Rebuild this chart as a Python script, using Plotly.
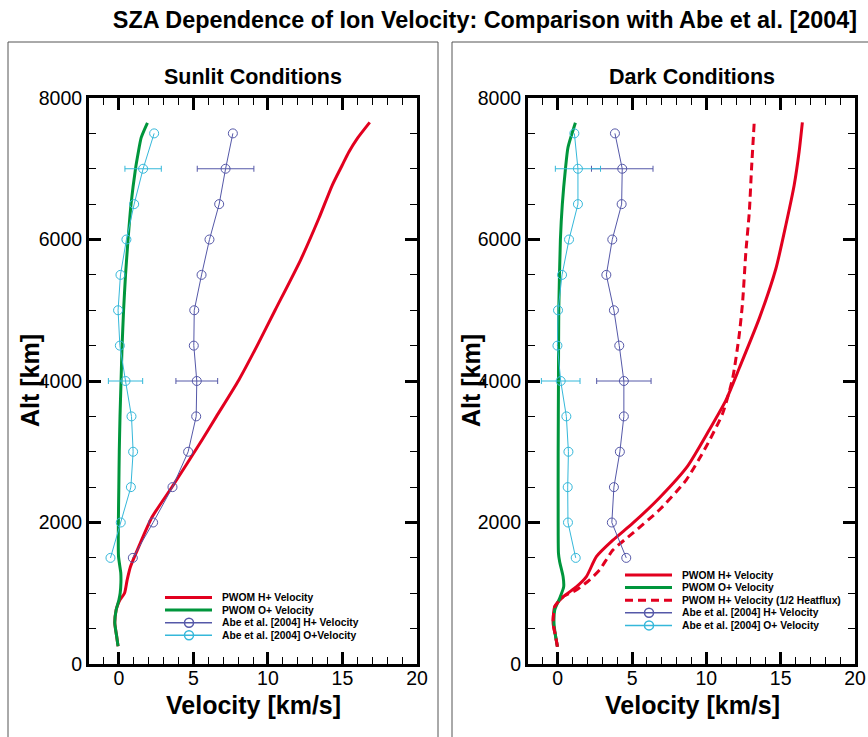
import plotly.graph_objects as go

# ---------------- data ----------------
abe_alt = [1500, 2000, 2500, 3000, 3500, 4000, 4500, 5000, 5500, 6000, 6500, 7000, 7500]
abe_h_sun = [0.94, 2.30, 3.60, 4.65, 5.19, 5.23, 5.03, 5.06, 5.55, 6.08, 6.73, 7.16, 7.65]
abe_o_sun = [-0.56, 0.13, 0.81, 0.96, 0.85, 0.45, 0.07, -0.05, 0.11, 0.51, 1.03, 1.63, 2.37]
abe_h_dark = [4.61, 3.64, 3.78, 4.18, 4.45, 4.45, 4.14, 3.78, 3.27, 3.67, 4.30, 4.34, 3.85]
abe_o_dark = [1.21, 0.69, 0.67, 0.72, 0.58, 0.20, -0.02, 0.02, 0.29, 0.76, 1.36, 1.36, 1.12]

# error bars given at 4000 km and 7000 km
err_alt = [4000, 7000]
err_h_sun = [1.40, 1.90]
err_o_sun = [1.15, 1.22]
err_h_dark = [1.83, 2.07]
err_o_dark = [1.30, 1.52]

pwom_o_sun_alt = [250, 400, 580, 763, 900, 1000, 1150, 1290, 1520, 2000, 2500, 3000, 3500, 4000,
                  4500, 5000, 5500, 6000, 6500, 7000, 7200, 7440, 7650]
pwom_o_sun = [-0.05, -0.15, -0.27, -0.18, 0.0, 0.09, 0.14, 0.13, -0.02, -0.03, 0.0, 0.03, 0.08, 0.15,
              0.22, 0.32, 0.45, 0.62, 0.82, 1.12, 1.28, 1.50, 1.92]

pwom_h_sun_alt = [250, 400, 580, 763, 850, 905, 1000, 1190, 1375, 1660, 2080, 2505, 3170, 3500, 4015,
                  4500, 5000, 5710, 6300, 6770, 7053, 7240, 7430, 7656]
pwom_h_sun = [-0.05, -0.15, -0.27, -0.18, -0.05, 0.07, 0.38, 0.56, 0.78, 1.34, 2.24, 3.58, 5.59, 6.55, 8.05,
              9.28, 10.48, 12.19, 13.42, 14.32, 14.99, 15.44, 16.00, 16.83]

pwom_o_dark_alt = [245, 400, 575, 763, 930, 1090, 1235, 1445, 1565, 2000, 3000, 4000, 5000, 6000,
                   6500, 7000, 7300, 7650]
pwom_o_dark = [-0.02, -0.15, -0.25, -0.20, 0.13, 0.40, 0.36, 0.13, 0.05, 0.03, 0.03, 0.05, 0.07, 0.18,
               0.31, 0.52, 0.69, 1.19]

pwom_h_dark_alt = [245, 400, 575, 810, 950, 1090, 1235, 1517, 1750, 1990, 2350, 2800, 3310, 3730, 4180,
                   4885, 5590, 6205, 6770, 7240, 7656]
pwom_h_dark = [-0.02, -0.15, -0.31, -0.20, 0.36, 1.25, 1.93, 2.60, 3.71, 5.05, 6.85, 8.75, 10.20, 11.32,
               12.21, 13.56, 14.68, 15.35, 15.91, 16.24, 16.46]

pwom_h_half_alt = [245, 400, 575, 810, 950, 1045, 1190, 1330, 1610, 1850, 2180, 2600, 3070, 3545, 4040,
                   4650, 5120, 5830, 6390, 7005, 7656]
pwom_h_half = [-0.02, -0.15, -0.31, -0.20, 0.36, 1.25, 2.15, 2.82, 3.71, 5.05, 6.85, 8.64, 9.98, 11.10,
               11.77, 12.21, 12.44, 12.66, 12.89, 13.04, 13.22]

x_ticks = [0, 5, 10, 15, 20]
y_ticks = [0, 2000, 4000, 6000, 8000]

RED = "#e2001f"
GREEN = "#00963c"
BLUE = "#5558a8"
CYAN = "#35b8da"

W, H = 868, 737


def px(x):
    return x / W


def py(y):
    return 1 - y / H


fig = go.Figure()


def add_panel(xa, ya, h_alt, h_vel, o_alt, o_vel, ah, ao, eh, eo, half=None):
    fig.add_trace(go.Scatter(x=h_vel, y=h_alt, mode="lines", name="PWOM H+ Velocity",
                             line=dict(color=RED, width=3, shape="spline", smoothing=0.6),
                             xaxis=xa, yaxis=ya, showlegend=False))
    fig.add_trace(go.Scatter(x=o_vel, y=o_alt, mode="lines", name="PWOM O+ Velocity",
                             line=dict(color=GREEN, width=3, shape="spline", smoothing=0.6),
                             xaxis=xa, yaxis=ya, showlegend=False))
    if half is not None:
        fig.add_trace(go.Scatter(x=half[1], y=half[0], mode="lines",
                                 name="PWOM H+ Velocity (1/2 Heatflux)",
                                 line=dict(color=RED, width=3, dash="8px,5px", shape="spline",
                                           smoothing=0.6),
                                 xaxis=xa, yaxis=ya, showlegend=False))
    for vals, errs, col, nm in [(ah, eh, BLUE, "Abe et al. [2004] H+ Velocity"),
                                (ao, eo, CYAN, "Abe et al. [2004] O+ Velocity")]:
        fig.add_trace(go.Scatter(x=vals, y=abe_alt, mode="lines+markers", name=nm,
                                 line=dict(color=col, width=1),
                                 marker=dict(symbol="circle-open", size=9, color=col,
                                             line=dict(width=1, color=col)),
                                 xaxis=xa, yaxis=ya, showlegend=False))
        ex = [vals[abe_alt.index(a)] for a in err_alt]
        fig.add_trace(go.Scatter(x=ex, y=err_alt, mode="markers", name=nm + " error",
                                 marker=dict(size=1, color="rgba(0,0,0,0)"),
                                 error_x=dict(type="data", array=errs, symmetric=True,
                                              color=col, thickness=1, width=3),
                                 xaxis=xa, yaxis=ya, showlegend=False, hoverinfo="skip"))


add_panel("x", "y", pwom_h_sun_alt, pwom_h_sun, pwom_o_sun_alt, pwom_o_sun,
          abe_h_sun, abe_o_sun, err_h_sun, err_o_sun)
add_panel("x2", "y2", pwom_h_dark_alt, pwom_h_dark, pwom_o_dark_alt, pwom_o_dark,
          abe_h_dark, abe_o_dark, err_h_dark, err_o_dark, half=(pwom_h_half_alt, pwom_h_half))

y_dom = [py(664), py(98)]
axis_common = dict(showgrid=False, zeroline=False, showline=True, linewidth=3, linecolor="black",
                   mirror="allticks", ticks="inside", tickwidth=3, ticklen=12, tickcolor="black",
                   automargin=False,
                   tickfont=dict(family="Arial", size=19.5, color="black"))
xcommon = dict(axis_common, range=[-2, 20], tickvals=x_ticks, ticklabelstandoff=-5,
               minor=dict(dtick=1, tick0=0, ticks="inside", ticklen=7, tickwidth=1, tickcolor="black"))
ycommon = dict(axis_common, range=[0, 8000], tickvals=y_ticks,
               minor=dict(dtick=500, tick0=0, ticks="inside", ticklen=7, tickwidth=1, tickcolor="black"))

fig.update_layout(
    width=W, height=H, autosize=False,
    margin=dict(l=0, r=0, t=0, b=0, pad=0),
    paper_bgcolor="white", plot_bgcolor="white",
    font=dict(family="Arial", color="black"),
    xaxis=dict(xcommon, domain=[px(89), px(417)], anchor="y"),
    yaxis=dict(ycommon, domain=y_dom, anchor="x"),
    xaxis2=dict(xcommon, domain=[px(528), px(855)], anchor="y2"),
    yaxis2=dict(ycommon, domain=y_dom, anchor="x2"),
    title=dict(text="SZA Dependence of Ion Velocity: Comparison with Abe et al. [2004]",
               x=px(485), y=py(20), xanchor="center", yanchor="middle", automargin=False,
               font=dict(family="Arial", size=23.4, weight="bold", color="black")),
    showlegend=False,
)

shapes = [
    dict(type="rect", xref="paper", yref="paper", x0=px(8), x1=px(438), y0=-0.05, y1=py(42),
         line=dict(color="#555555", width=1), layer="below"),
    dict(type="rect", xref="paper", yref="paper", x0=px(452), x1=1.05, y0=-0.05, y1=py(42),
         line=dict(color="#555555", width=1), layer="below"),
]
annotations = []


def txt(x, y, s, size, bold=True, xanchor="center", angle=0):
    annotations.append(dict(text=s, x=px(x), y=py(y), xref="paper", yref="paper",
                            xanchor=xanchor, yanchor="middle", showarrow=False, textangle=angle,
                            font=dict(family="Arial", size=size, color="black",
                                      weight="bold" if bold else "normal")))


txt(253, 77, "Sunlit Conditions", 21.5)
txt(692, 77, "Dark Conditions", 21.5)
txt(253, 705, "Velocity [km/s]", 25)
txt(692, 705, "Velocity [km/s]", 25)
txt(30, 381, "Alt [km]", 25, angle=-90)
txt(471, 381, "Alt [km]", 25, angle=-90)


# compact legends as in the original
def legend(x0, y0, items):
    step = 12.6
    for i, (label, col, dash, marker) in enumerate(items):
        yy = y0 + i * step
        shapes.append(dict(type="line", xref="paper", yref="paper", x0=px(x0), x1=px(x0 + 47),
                           y0=py(yy), y1=py(yy),
                           line=dict(color=col, width=3 if not marker else 1.5, dash=dash)))
        if marker:
            cx = x0 + 24
            shapes.append(dict(type="circle", xref="paper", yref="paper",
                               x0=px(cx - 4.5), x1=px(cx + 4.5), y0=py(yy + 4.5), y1=py(yy - 4.5),
                               line=dict(color=col, width=1.5), fillcolor="rgba(0,0,0,0)"))
        txt(x0 + 55, yy, label, 10.3, xanchor="left")


legend(165, 597.5, [("PWOM H+ Velocity", RED, "solid", False),
                    ("PWOM O+ Velocity", GREEN, "solid", False),
                    ("Abe et al. [2004] H+ Velocity", BLUE, "solid", True),
                    ("Abe et al. [2004] O+Velocity", CYAN, "solid", True)])
legend(625, 575, [("PWOM H+ Velocity", RED, "solid", False),
                  ("PWOM O+ Velocity", GREEN, "solid", False),
                  ("PWOM H+ Velocity (1/2 Heatflux)", RED, "8px,5px", False),
                  ("Abe et al. [2004] H+ Velocity", BLUE, "solid", True),
                  ("Abe et al. [2004] O+ Velocity", CYAN, "solid", True)])

fig.update_layout(shapes=shapes, annotations=annotations)
fig.write_html("out.html")
